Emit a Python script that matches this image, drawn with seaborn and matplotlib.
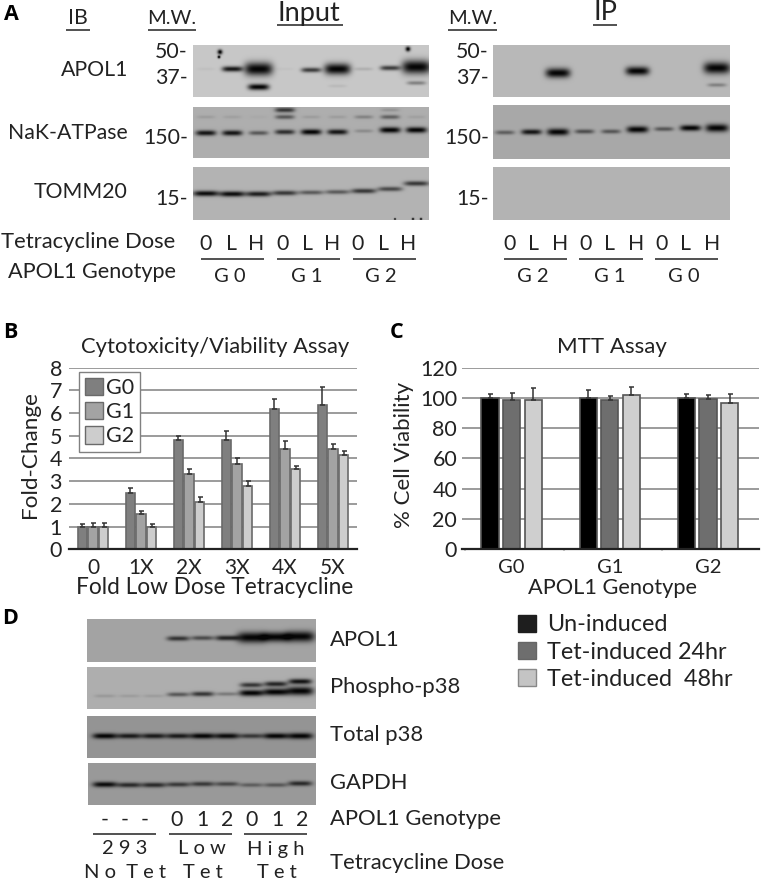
"""APOL1 composite figure: western blots (A, D) and two bar charts (B, C)."""
import numpy as np
import pandas as pd
import matplotlib
matplotlib.use("Agg")
import matplotlib.pyplot as plt
from matplotlib.patches import Patch
import seaborn as sns

W, H = 762, 882

# --- panel B
DOSES = ["0", "1X", "2X", "3X", "4X", "5X"]
GENOS = ["G0", "G1", "G2"]
B_G0 = [1.0, 2.5, 4.8, 4.8, 6.2, 6.35]
B_G1 = [1.0, 1.55, 3.3, 3.75, 4.4, 4.4]
B_G2 = [1.0, 1.0, 2.1, 2.8, 3.55, 4.15]
B_G0_ERR = [0.1, 0.2, 0.17, 0.4, 0.4, 0.8]
B_G1_ERR = [0.15, 0.15, 0.25, 0.25, 0.35, 0.25]
B_G2_ERR = [0.15, 0.1, 0.2, 0.2, 0.1, 0.2]

# --- panel C
TREATS = ["Un-induced", "Tet-induced 24hr", "Tet-induced  48hr"]
C_UN = [100, 100, 100]
C_24 = [98.5, 98.5, 99]
C_48 = [98.5, 102, 97]
C_UN_ERR = [2.5, 5.5, 2.3]
C_24_ERR = [5, 3, 3]
C_48_ERR = [8, 5, 5.5]

# --- blot band signal per lane (1 = thin saturated band, >1 = thicker band)
INPUT_APOL1 = [0.04, 0.9, 4.0, 0.03, 0.7, 3.2, 0.12, 0.7, 4.2]
INPUT_APOL1_LOW = [0, 0, 1.2, 0, 0, 0.07, 0, 0, 0.35]
INPUT_NAK = [0.9, 0.9, 0.5, 0.75, 1.0, 0.9, 0.2, 1.1, 1.1]
INPUT_NAK_UP = [0.1, 0.08, 0.03, 0.5, 0.1, 0.1, 0.25, 0.45, 0.08]
INPUT_NAK_TOP = [0, 0, 0, 0.7, 0, 0, 0, 0.15, 0]
INPUT_TOMM = [0.95, 0.95, 0.85, 0.7, 0.5, 0.5, 0.7, 0.6, 0.7]
IP_APOL1 = [0, 0, 2.6, 0, 0, 2.2, 0, 0, 3.4]
IP_APOL1_LOW = [0, 0, 0, 0, 0, 0, 0, 0, 0.3]
IP_NAK = [0.45, 0.9, 1.5, 0.55, 0.5, 1.4, 0.5, 1.1, 1.9]
IP_TOMM = [0, 0, 0, 0, 0, 0, 0, 0, 0]
D_APOL1 = [0, 0, 0, 0.7, 0.55, 0.8, 3.0, 2.6, 3.0]
D_PP38 = [0.12, 0.1, 0.1, 0.5, 0.7, 0.3, 1.3, 1.6, 2.2]
D_PP38_UP = [0, 0, 0, 0, 0, 0, 0.7, 0.8, 0.9]
D_P38 = [1.0, 0.85, 0.85, 0.85, 1.0, 0.95, 0.65, 1.0, 1.2]
D_GAPDH = [0.95, 0.75, 0.75, 0.65, 0.65, 0.55, 0.4, 0.45, 0.75]

sns.set_theme(style="white")
plt.rcParams["font.family"] = ["Lato", "DejaVu Sans"]
plt.rcParams["text.color"] = "#222222"
plt.rcParams["axes.labelcolor"] = "#222222"
plt.rcParams["xtick.color"] = "#222222"
plt.rcParams["ytick.color"] = "#222222"

fig = plt.figure(figsize=(W / 100, H / 100), dpi=100, facecolor="white")


def px_axes(x0, y0, x1, y1):
    return fig.add_axes([x0 / W, 1 - y1 / H, (x1 - x0) / W, (y1 - y0) / H])


def blot(x0, y0, x1, y1, bg, lane0, pitch, rows, spread=0, specks=()):
    """Grey image of one membrane; rows = (signal per lane, band y in figure px)."""
    xs, ys = np.meshgrid(np.arange(x0, x1) + 0.5, np.arange(y0, y1) + 0.5)
    dark = np.zeros_like(xs)
    for signal, yy in rows:
        yy = np.broadcast_to(yy, (9,))
        for i, s in enumerate(signal):
            if s <= 0:
                continue
            hw = 9 + 1.3 * s + spread
            hh = 1.6 + 1.25 * s
            lx = lane0 + i * pitch
            dark += min(s, 1) * np.exp(-(np.abs(xs - lx) / hw) ** 4) * np.exp(-(np.abs(ys - yy[i]) / hh) ** 2)
    for sx, sy, r in specks:
        dark += np.exp(-((xs - sx) ** 2 + (ys - sy) ** 2) / r ** 2)
    img = np.clip(bg * (1 - np.clip(dark, 0, 1)) + 0.02, 0, 1)
    ax = px_axes(x0, y0, x1, y1)
    sns.heatmap(img, cmap="gray", vmin=0, vmax=1, cbar=False, xticklabels=False,
                yticklabels=False, ax=ax, rasterized=True)
    ax.set_xlabel("")
    ax.set_ylabel("")


# blots, panel A
blot(193, 45, 429, 97, 0.76, 206, 26.3,
     [(INPUT_APOL1, [69, 69, 69, 69, 70, 69, 69, 68, 67]), (INPUT_APOL1_LOW, [87, 87, 87, 86, 86, 86, 83, 83, 83])],
     specks=[(220, 52, 2.5), (219, 57, 1.5), (408, 49, 2.5)])
blot(193, 107, 429, 158, 0.66, 206, 26.3,
     [(INPUT_NAK, [133, 133, 133, 132, 132, 132, 131, 130, 130]), (INPUT_NAK_UP, 117), (INPUT_NAK_TOP, 110)])
blot(193, 167, 429, 220, 0.68, 206, 26.3,
     [(INPUT_TOMM, [193.5, 194, 194, 193, 192.5, 192, 191, 189, 183.5])], spread=2.5,
     specks=[(395, 219, 1), (413, 219, 1.2), (421, 219, 1.2)])
blot(493, 45, 730, 97, 0.70, 505, 26.5,
     [(IP_APOL1, [73, 73, 73, 71, 71, 71, 68, 68, 68]), (IP_APOL1_LOW, 85)])
blot(493, 105, 730, 159, 0.64, 505, 26.5,
     [(IP_NAK, [132.5, 132, 132, 131.5, 131.5, 129.5, 129, 128, 128])])
blot(493, 167, 730, 220, 0.68, 505, 26.5, [(IP_TOMM, 190)])

# blots, panel D
blot(87, 619, 316, 662, 0.62, 105, 24.4, [(D_APOL1, [638, 638, 638, 638.5, 638, 638, 637.5, 637, 636.5])], spread=1.5)
blot(87, 667, 316, 709, 0.66, 105, 24.4,
     [(D_PP38, [696, 696, 696, 694.5, 694, 694, 693, 692, 691]), (D_PP38_UP, [685, 684, 682, 685, 684, 682, 685, 684, 681.5])],
     spread=1.5)
blot(87, 716, 316, 758, 0.56, 105, 24.4, [(D_P38, 736)], spread=2)
blot(88, 763, 316, 805, 0.58, 105, 24.4, [(D_GAPDH, [784.5, 785, 785, 784.5, 784, 784, 785, 785, 783.5])], spread=2)


def bars(ax, cats, series, errs, colors, width, gap, edge):
    names = list(series)
    df = pd.DataFrame({"cat": np.tile(cats, len(names)),
                       "hue": np.repeat(names, len(cats)),
                       "val": np.concatenate([series[k] for k in names])})
    sns.barplot(data=df, x="cat", y="val", hue="hue", order=cats, hue_order=names, palette=colors,
                width=width, gap=gap, ax=ax, saturation=1, edgecolor=edge, linewidth=1.2, legend=False)
    for cont, k in zip(ax.containers, names):
        xc = [b.get_x() + b.get_width() / 2 for b in cont]
        yv = [b.get_height() for b in cont]
        ax.errorbar(xc, yv, yerr=[np.zeros(len(cats)), errs[k]], fmt="none", ecolor="#333333",
                    elinewidth=1.1, capsize=1.8, capthick=1.1, zorder=5)
    ax.set_xlabel("")
    ax.set_ylabel("")
    for s in ["top", "left", "right"]:
        ax.spines[s].set_visible(False)
    ax.spines["bottom"].set_color("#222222")
    ax.spines["bottom"].set_linewidth(1.6)
    ax.yaxis.grid(True, color="#808080", lw=1.1)
    ax.set_axisbelow(True)
    ax.patch.set_alpha(0)


# panel B
ax_b = px_axes(69, 367.7, 357, 549.3)
bars(ax_b, DOSES, {"G0": B_G0, "G1": B_G1, "G2": B_G2}, {"G0": B_G0_ERR, "G1": B_G1_ERR, "G2": B_G2_ERR},
     ["#7f7f7f", "#a3a3a3", "#cdcdcd"], 0.675, 0.15, "#6a6a6a")
ax_b.set_xlim(-0.5, 5.5)
ax_b.set_ylim(0, 8)
ax_b.set_yticks(range(9))
ax_b.tick_params(axis="y", length=0, pad=5, labelsize=15.5)
ax_b.tick_params(axis="x", length=0, pad=6, labelsize=15)
ax_b.legend(handles=[Patch(facecolor=c, edgecolor="#6a6a6a", label=g)
                     for c, g in zip(["#7f7f7f", "#a3a3a3", "#cdcdcd"], GENOS)],
            loc="upper left", bbox_to_anchor=(10 / 288, 1 - 4 / 181.6), borderaxespad=0, fontsize=15.5,
            frameon=True, fancybox=False, framealpha=1, edgecolor="#808080",
            handlelength=0.85, handleheight=0.85, handletextpad=0.12, labelspacing=0.2, borderpad=0.28)

# panel C
ax_c = px_axes(462, 367.7, 759, 549.3)
bars(ax_c, GENOS, {TREATS[0]: C_UN, TREATS[1]: C_24, TREATS[2]: C_48},
     {TREATS[0]: C_UN_ERR, TREATS[1]: C_24_ERR, TREATS[2]: C_48_ERR},
     ["#000000", "#6e6e6e", "#cfcfcf"], 0.66, 0.2, "#555555")
ax_c.set_xlim(-0.504, 2.518)
ax_c.set_ylim(0, 120)
ax_c.set_yticks(range(0, 121, 20))
ax_c.set_xticks([-0.47, 0.53, 1.53], minor=True)
ax_c.tick_params(axis="x", which="minor", length=1.5, width=1.5, color="#cccccc", bottom=True)
ax_c.tick_params(axis="y", length=0, pad=3.5, labelsize=15.5)
ax_c.tick_params(axis="x", which="major", length=0, pad=7, labelsize=14.5)

# overlay in figure pixels for the free text and rules
ov = fig.add_axes([0, 0, 1, 1], zorder=10)
ov.set_xlim(0, W)
ov.set_ylim(H, 0)
ov.axis("off")


def t(x, y, s, size=15.3, ha="center", **kw):
    ov.text(x, y, s, fontsize=size, ha=ha, va="center", **kw)


def rule(x0, x1, y, lw=1.1):
    ov.plot([x0, x1], [y, y], color="#222222", lw=lw, solid_capstyle="butt")


for x, y, s in [(11, 14, "A"), (10, 332, "B"), (397, 332, "C"), (10, 618, "D")]:
    t(x, y, s, size=15.5, fontweight="bold", color="black", family=["Open Sans", "DejaVu Sans"])

# panel A headers
t(78, 18, "IB")
rule(66, 90, 30)
t(172, 19, "M.W.", size=14.5)
rule(148, 196, 30)
t(473, 19, "M.W.", size=14.5)
rule(448, 497, 30)
t(309, 13, "Input", size=19.5)
rule(277, 343, 24.5)
t(605, 13, "IP", size=19.5)
rule(593, 617, 24.5)

for y, s in [(70, "APOL1"), (133, "NaK-ATPase"), (192, "TOMM20")]:
    t(128, y, s, ha="right")
for xr in (188, 489):
    for y, s in [(52, "50-"), (78, "37-"), (138, "150-"), (199, "15-")]:
        t(xr, y, s, ha="right")

t(175, 242, "Tetracycline Dose", ha="right", size=15.8)
t(176, 272, "APOL1 Genotype", ha="right", size=15.6)
for xs_, labs in [((206, 231, 256, 283, 307, 332, 358, 383, 408), "0LH0LH0LH"),
                  ((510, 534, 560, 586, 610, 636, 662, 686, 712), "0LH0LH0LH")]:
    for x, s in zip(xs_, labs):
        t(x, 244, s)
for a, b in [(201, 264), (277, 340), (353, 416), (504, 567), (579, 643), (655, 718)]:
    rule(a, b, 258.7)
for x, s in [(230, "G 0"), (307, "G 1"), (381, "G 2"), (533, "G 2"), (610, "G 1"), (684, "G 0")]:
    t(x, 276, s, size=14.5)

# panel B, C labels
t(215, 347, "Cytotoxicity/Viability Assay", size=15.8)
t(30, 455, "Fold-Change", size=16.2, rotation=90)
t(215, 587, "Fold Low Dose Tetracycline", size=16.3)
t(612, 347, "MTT Assay", size=16)
t(404, 455, "% Cell Viability", size=16, rotation=90)
t(612, 588, "APOL1 Genotype", size=15.7)

ov.legend(handles=[Patch(facecolor=c, edgecolor=e, label=s)
                   for c, e, s in zip(["#1e1e1e", "#6e6e6e", "#c4c4c4"], ["#1e1e1e", "#666666", "#888888"], TREATS)],
          loc="upper left", bbox_to_anchor=(515.7 / W, 1 - 612 / H), borderaxespad=0, frameon=False, fontsize=16.8,
          handlelength=0.75, handleheight=0.75, handletextpad=0.5, labelspacing=0.27, borderpad=0.1)

# panel D labels
for y, s in [(640, "APOL1"), (687, "Phospho-p38"), (735, "Total p38"), (783, "GAPDH"), (819, "APOL1 Genotype"),
             (863, "Tetracycline Dose")]:
    t(330, y, s, size=15.8, ha="left")
for x, s in zip((105, 125, 145, 177, 202, 227, 252, 277, 302), "---012012"):
    t(x, 820, s, size=15.3)
for a, b in [(93, 156), (169, 232), (244, 307)]:
    rule(a, b, 833.5)
for x, y, s in [(125, 849, "2 9 3"), (202, 849, "L o w"), (276, 849, "H i g h"),
                (125, 873, "N o  T e t"), (203, 873, "T e t"), (277, 873, "T e t")]:
    t(x, y, s, size=14.5)

fig.savefig("out.png", dpi=100, facecolor="white")
